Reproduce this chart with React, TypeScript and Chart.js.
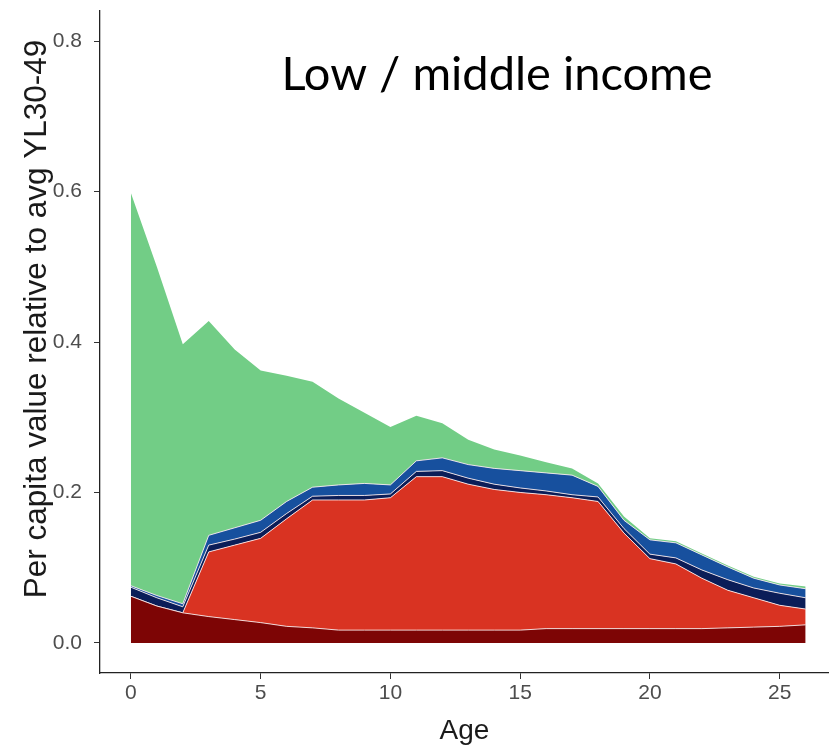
import React, { useEffect, useRef } from 'react';
import { Chart, registerables } from 'chart.js';

Chart.register(...registerables);

const AGES = [0, 1, 2, 3, 4, 5, 6, 7, 8, 9, 10, 11, 12, 13, 14, 15, 16, 17, 18, 19, 20, 21, 22, 23, 24, 25, 26];

// stacked layer values (bottom to top)
const DARK_RED = [0.062, 0.049, 0.04, 0.035, 0.031, 0.027, 0.022, 0.02, 0.017, 0.017, 0.017, 0.017, 0.017, 0.017, 0.017, 0.017, 0.019, 0.019, 0.019, 0.019, 0.019, 0.019, 0.019, 0.02, 0.021, 0.022, 0.024];
const RED = [0, 0, 0, 0.086, 0.099, 0.112, 0.143, 0.17, 0.173, 0.173, 0.176, 0.204, 0.204, 0.194, 0.187, 0.183, 0.178, 0.174, 0.169, 0.127, 0.093, 0.086, 0.067, 0.05, 0.039, 0.028, 0.021];
const NAVY = [0.012, 0.011, 0.008, 0.009, 0.008, 0.008, 0.007, 0.005, 0.006, 0.006, 0.005, 0.007, 0.008, 0.008, 0.007, 0.006, 0.005, 0.004, 0.006, 0.006, 0.006, 0.008, 0.011, 0.014, 0.013, 0.016, 0.015];
const BLUE = [0.002, 0.003, 0.004, 0.013, 0.015, 0.016, 0.016, 0.012, 0.014, 0.016, 0.012, 0.014, 0.017, 0.018, 0.021, 0.023, 0.024, 0.026, 0.014, 0.011, 0.019, 0.02, 0.02, 0.017, 0.013, 0.011, 0.012];
const GREEN = [0.522, 0.437, 0.345, 0.285, 0.237, 0.199, 0.167, 0.14, 0.115, 0.094, 0.077, 0.06, 0.046, 0.033, 0.025, 0.02, 0.014, 0.009, 0.004, 0.005, 0.002, 0.002, 0.002, 0.002, 0.002, 0.002, 0.003];

const X_TICKS = [0, 5, 10, 15, 20, 25];
const Y_TICKS = [0, 0.2, 0.4, 0.6, 0.8];

const TITLE = 'Low / middle income';
const Y_TITLE = 'Per capita value relative to avg YL30-49';
const X_TITLE = 'Age';

const SANS = '"Liberation Sans", Arial, sans-serif';

const toPoints = (vals: number[]) => vals.map((v, i) => ({ x: AGES[i], y: v }));

const textPlugin = {
  id: 'customText',
  afterDraw(chart: any) {
    const ctx = chart.ctx as CanvasRenderingContext2D;
    const area = chart.chartArea;
    ctx.save();
    ctx.fillStyle = '#000';
    ctx.textAlign = 'center';
    ctx.textBaseline = 'middle';
    ctx.font = '47px Lato, "Open Sans", sans-serif';
    ctx.fillText(TITLE, area.left + 397, area.top + 64);
    ctx.translate(37, area.top + 308);
    ctx.rotate(-Math.PI / 2);
    ctx.font = `31.5px ${SANS}`;
    ctx.fillStyle = '#1a1a1a';
    ctx.fillText(Y_TITLE, 0, 0);
    ctx.restore();
  },
};

export default function App() {
  const ref = useRef<HTMLCanvasElement | null>(null);

  useEffect(() => {
    document.body.style.margin = '0';
    if (!ref.current) return;
    const mk = (label: string, data: number[], color: string, fill: any, border = true) => ({
      label,
      data: toPoints(data),
      backgroundColor: color,
      borderColor: 'rgba(255,240,240,0.85)',
      borderWidth: border ? 1 : 0,
      pointRadius: 0,
      tension: 0,
      fill,
    });
    const chart = new Chart(ref.current, {
      type: 'line',
      data: {
        datasets: [
          mk('Dark red', DARK_RED, '#7d0505', 'origin'),
          mk('Red', RED, '#d93322', '-1'),
          mk('Navy', NAVY, '#0b1d58', '-1'),
          mk('Blue', BLUE, '#17509e', '-1'),
          mk('Green', GREEN, '#72cd86', '-1', false),
        ],
      },
      options: {
        animation: false,
        responsive: false,
        maintainAspectRatio: false,
        layout: { padding: { top: 11, right: 0, left: 0, bottom: 0 } },
        plugins: {
          legend: { display: false },
          tooltip: { enabled: false },
        },
        scales: {
          x: {
            type: 'linear',
            min: -1.19,
            max: 26.9,
            afterBuildTicks: (s: any) => {
              s.ticks = X_TICKS.map((v) => ({ value: v }));
            },
            afterFit: (s: any) => {
              s.height = 76;
              s.paddingLeft = 0;
              s.paddingRight = 0;
            },
            grid: { display: true, drawOnChartArea: false, drawTicks: true, tickLength: 6, color: '#333', lineWidth: 1 },
            border: { display: true, color: '#222', width: 1.3 },
            ticks: {
              color: '#4d4d4d',
              font: { family: SANS, size: 21 },
              padding: 2,
              maxRotation: 0,
              autoSkip: false,
              callback: (v: any) => String(v),
            },
            title: {
              display: true,
              text: X_TITLE,
              color: '#1a1a1a',
              font: { family: SANS, size: 28 },
              padding: { top: 0, bottom: 1 },
            },
          },
          y: {
            type: 'linear',
            stacked: true,
            min: -0.04,
            max: 0.84,
            afterBuildTicks: (s: any) => {
              s.ticks = Y_TICKS.map((v) => ({ value: v }));
            },
            afterFit: (s: any) => {
              s.width = 100;
              s.paddingTop = 0;
              s.paddingBottom = 0;
            },
            grid: { display: true, drawOnChartArea: false, drawTicks: true, tickLength: 6, color: '#333', lineWidth: 1 },
            border: { display: true, color: '#222', width: 1.3 },
            ticks: {
              color: '#4d4d4d',
              font: { family: SANS, size: 21 },
              padding: 12,
              autoSkip: false,
              callback: (v: any) => Number(v).toFixed(1),
            },
          },
        },
      },
      plugins: [textPlugin],
    });
    return () => chart.destroy();
  }, []);

  return <canvas ref={ref} width={829} height={749} style={{ display: 'block' }} />;
}
